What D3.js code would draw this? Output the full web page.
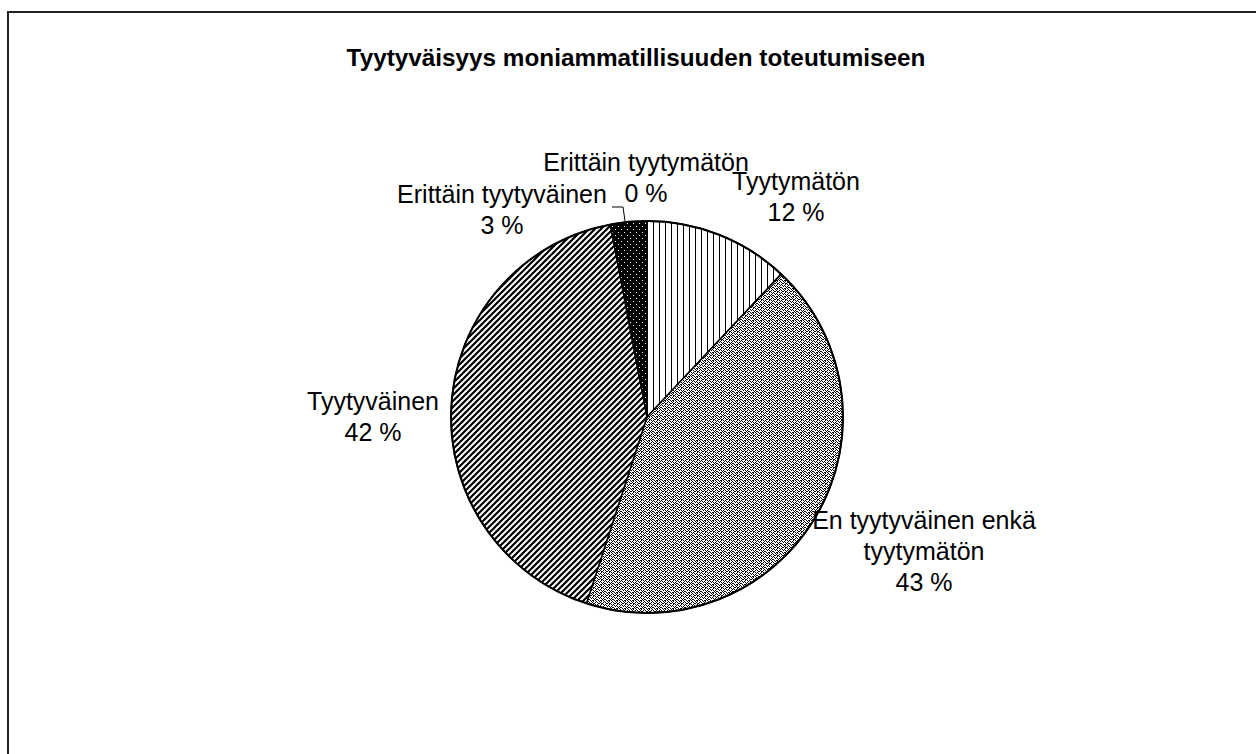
<!DOCTYPE html>
<html>
<head>
<meta charset="utf-8">
<script src="https://cdn.jsdelivr.net/npm/d3@7"></script>
<style>
  body { margin: 0; background: #fff; }
  text { font-family: "Liberation Sans", Arial, sans-serif; fill: #000; }
</style>
</head>
<body>
<div id="chart-container"></div>
<script>
// chart data
let categories = ["Erittäin tyytymätön", "Tyytymätön", "En tyytyväinen enkä tyytymätön", "Tyytyväinen", "Erittäin tyytyväinen"];
let values = [0, 12, 43, 42, 3];
let labelLines = [["Erittäin tyytymätön"], ["Tyytymätön"], ["En tyytyväinen enkä", "tyytymätön"], ["Tyytyväinen"], ["Erittäin tyytyväinen"]];
let title = "Tyytyväisyys moniammatillisuuden toteutumiseen";

let width = 1256, height = 754;
let cx = 647, cy = 417, radius = 196;

// where excel put the labels, relative to the pie center (first baseline)
let labelOffset = {
    "Erittäin tyytymätön": [-1, -246],
    "Tyytymätön": [149, -227],
    "En tyytyväinen enkä tyytymätön": [277, 112],
    "Tyytyväinen": [-274, -7],
    "Erittäin tyytyväinen": [-145, -214]
};
let patternIds = ["p-none", "p-vert", "p-dots", "p-diag", "p-dark"];

let svg = d3.select("#chart-container")
    .append("svg")
    .attr("width", width)
    .attr("height", height);

let defs = svg.append("defs");

// vertical lines
let pv = defs.append("pattern").attr("id", "p-vert")
    .attr("patternUnits", "userSpaceOnUse").attr("width", 6).attr("height", 6);
pv.append("rect").attr("width", 6).attr("height", 6).attr("fill", "#fff");
pv.append("rect").attr("x", 0).attr("width", 1).attr("height", 6).attr("fill", "#000");

// grainy texture (8x8 bitmap)
let grain = ["10100100", "01001010", "10110001", "00101010", "01000101", "10101000", "00010110", "01101001"];
let pd = defs.append("pattern").attr("id", "p-dots")
    .attr("patternUnits", "userSpaceOnUse").attr("width", 8).attr("height", 8);
pd.append("rect").attr("width", 8).attr("height", 8).attr("fill", "#fff");
grain.forEach(function (row, y) {
    row.split("").forEach(function (c, x) {
        if (c === "1") {
            pd.append("rect").attr("x", x).attr("y", y).attr("width", 1).attr("height", 1).attr("fill", "#000");
        }
    });
});

// upward diagonal
let pg = defs.append("pattern").attr("id", "p-diag")
    .attr("patternUnits", "userSpaceOnUse").attr("width", 6).attr("height", 6);
pg.append("rect").attr("width", 6).attr("height", 6).attr("fill", "#fff");
pg.append("path").attr("d", "M-1,1 l2,-2 M0,6 l6,-6 M5,7 l2,-2")
    .attr("stroke", "#000").attr("stroke-width", 2.2);

// black with white dots
let pk = defs.append("pattern").attr("id", "p-dark")
    .attr("patternUnits", "userSpaceOnUse").attr("width", 6).attr("height", 6);
pk.append("rect").attr("width", 6).attr("height", 6).attr("fill", "#000");
pk.append("rect").attr("x", 1).attr("y", 1).attr("width", 1).attr("height", 1).attr("fill", "#fff");
pk.append("rect").attr("x", 4).attr("y", 4).attr("width", 1).attr("height", 1).attr("fill", "#fff");

// chart area border
svg.append("rect")
    .attr("x", 8).attr("y", 12)
    .attr("width", width + 20).attr("height", height + 20)
    .attr("fill", "none")
    .attr("stroke", "#222")
    .attr("stroke-width", 2);

// title
svg.append("text")
    .attr("x", 636)
    .attr("y", 66)
    .style("text-anchor", "middle")
    .style("font-weight", "bold")
    .style("font-size", "24.3px")
    .text(title);

let pie = d3.pie().sort(null).value(function (d) { return d; });
let arcs = pie(values);
let arc = d3.arc().innerRadius(0).outerRadius(radius);

let g = svg.append("g").attr("transform", "translate(" + cx + "," + cy + ")");

g.selectAll("path.slice")
    .data(arcs)
    .enter()
    .append("path")
    .attr("class", "slice")
    .attr("d", arc)
    .attr("fill", function (d, i) { return "url(#" + patternIds[i] + ")"; })
    .attr("stroke", "#000")
    .attr("stroke-width", 1.5)
    .attr("stroke-linejoin", "round");

// outer rim
g.append("circle").attr("r", radius).attr("fill", "none")
    .attr("stroke", "#000").attr("stroke-width", 2);

// labels
let lineHeight = 31;
arcs.forEach(function (d, i) {
    let off = labelOffset[categories[i]];
    let lines = labelLines[i].concat([Math.round(values[i]) + " %"]);
    let t = g.append("text")
        .attr("x", off[0]).attr("y", off[1])
        .style("text-anchor", "middle")
        .style("font-size", "25px");
    lines.forEach(function (l, k) {
        t.append("tspan").attr("x", off[0]).attr("dy", k === 0 ? 0 : lineHeight).text(l);
    });
});

// leader line for the 0 % slice
let edge = d3.arc().innerRadius(radius).outerRadius(radius).centroid(arcs[0]);
let leader = [[edge[0] - 35, edge[1] - 14], [edge[0] - 24, edge[1] - 14], [edge[0] - 22, edge[1]]];
g.append("path")
    .attr("d", d3.line()(leader))
    .attr("fill", "none")
    .attr("stroke", "#000")
    .attr("stroke-width", 1);
</script>
</body>
</html>
